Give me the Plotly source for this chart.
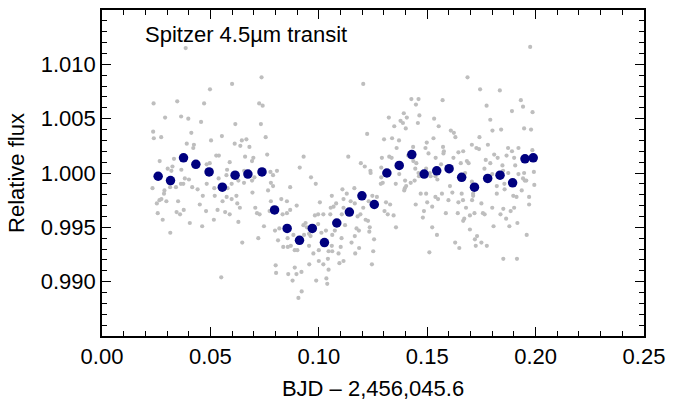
import plotly.graph_objects as go

# ---- raw photometry (grey points), grouped by region ----
time_a = [0.0386,0.0238,0.0291,0.0347,0.0365,0.0398,0.0457,0.0471,0.0498,0.0600,
          0.0736,0.0725,0.0741,0.0615,0.0733,0.0236,0.0239,0.0273,0.0412,0.0391,
          0.0424,0.0421,0.0503,0.0553,0.0612,0.0638,0.0645,0.0666,0.0680,0.0755,
          0.0266,0.0332,0.0527,0.0539,0.0589,0.0660,0.0698,0.0692,0.0762,0.0912,
          0.0930,0.0325,0.0303,0.0320,0.0366,0.0483,0.0497,0.0577,0.0656,0.0703,
          0.0777,0.0807,0.0789,0.0964,0.0986,0.0233,0.0288,0.0314,0.0364,0.0375,
          0.0416,0.0441,0.0483,0.0518,0.0579,0.0629,0.0655,0.0692,0.0779,0.0789,
          0.0868,0.0341,0.0382,0.0401,0.0538,0.0574,0.0598]
flux_a = [1.0115,1.0064,1.0051,1.0066,1.0052,1.0050,1.0047,1.0064,1.0077,1.0082,
          1.0088,1.0064,1.0062,1.0045,1.0045,1.0038,1.0032,1.0033,1.0037,1.0027,
          1.0026,1.0023,1.0030,1.0034,1.0027,1.0025,1.0030,1.0031,1.0024,1.0033,
          1.0011,1.0013,1.0016,1.0016,1.0010,1.0015,1.0014,1.0011,1.0017,1.0005,
          1.0015,1.0006,1.0004,1.0002,1.0003,1.0008,1.0009,1.0003,1.0002,0.9996,
          1.0001,1.0002,0.9998,0.9996,0.9990,0.9986,0.9984,0.9987,0.9990,0.9990,
          0.9987,0.9985,0.9990,0.9986,0.9986,0.9993,0.9991,0.9993,0.9991,0.9988,
          0.9987,0.9987,0.9995,0.9994,0.9995,0.9998,0.9990]

time_b = [0.1975,0.1205,0.1686,0.1744,0.1835,0.1427,0.1460,0.1448,0.1571,0.1932,
          0.1942,0.1774,0.1891,0.1986,0.1323,0.1392,0.1406,0.1464,0.1532,0.1791,
          0.1348,0.1377,0.1388,0.1401,0.1457,0.1553,0.1609,0.1623,0.1630,0.1801,
          0.1841,0.1947,0.1979,0.1223,0.1301,0.1338,0.1370,0.1359,0.1435,0.1498,
          0.1529,0.1492,0.1573,0.1577,0.1706,0.1727,0.1739,0.1741,0.1780,0.1873,
          0.1891,0.1921,0.1985,0.1136,0.1291,0.1325,0.1336,0.1412,0.1436,0.1506,
          0.1539,0.1575,0.1621,0.1644,0.1666,0.1683,0.1691,0.1770,0.1791,0.1809,
          0.1825,0.1866,0.1901,0.1906,0.1847,0.1194,0.1212,0.1238,0.1239,0.1288,
          0.1371,0.1450,0.1445,0.1460,0.1495,0.1512,0.1538,0.1564,0.1606,0.1655,
          0.1675,0.1764,0.1800,0.1850,0.1874,0.1921,0.1942,0.1950,0.1992,0.1947,
          0.1288,0.1295,0.1286,0.1355,0.1398,0.1424,0.1442,0.1397,0.1403,0.1462,
          0.1516,0.1547,0.1605,0.1706,0.1857,0.1957,0.1994,0.1109,0.1164,0.1785,
          0.1821,0.1856]
flux_b = [1.0116,1.0082,1.0088,1.0077,1.0076,1.0068,1.0068,1.0063,1.0067,1.0067,
          1.0061,1.0062,1.0057,1.0056,1.0051,1.0055,1.0051,1.0053,1.0050,1.0049,
          1.0043,1.0048,1.0046,1.0041,1.0046,1.0043,1.0039,1.0037,1.0033,1.0039,
          1.0040,1.0041,1.0040,1.0036,1.0031,1.0032,1.0030,1.0023,1.0024,1.0028,
          1.0032,1.0023,1.0024,1.0020,1.0026,1.0023,1.0022,1.0033,1.0026,1.0023,
          1.0020,1.0023,1.0021,1.0015,1.0014,1.0015,1.0014,1.0016,1.0011,1.0018,
          1.0014,1.0018,1.0014,1.0019,1.0020,1.0011,1.0009,1.0012,1.0009,1.0017,
          1.0014,1.0016,1.0014,1.0007,1.0007,1.0009,1.0006,1.0002,1.0000,1.0005,
          0.9999,1.0009,1.0004,1.0000,1.0004,1.0000,0.9997,1.0008,1.0005,1.0009,
          1.0000,1.0004,0.9999,1.0002,1.0000,0.9999,0.9995,0.9993,1.0001,1.0000,
          0.9996,0.9991,0.9990,0.9990,0.9993,0.9991,0.9993,0.9986,0.9988,0.9997,
          0.9997,0.9994,0.9988,0.9992,0.9985,0.9993,0.9989,0.9985,0.9986,0.9993,
          0.9988,0.9990]

time_c = [0.0286,0.0274,0.0265,0.0253,0.0297,0.0351,0.0465,0.0620,0.0598,0.0575,
          0.0556,0.0520,0.0624,0.0636,0.0257,0.0280,0.0344,0.0360,0.0377,0.0451,
          0.0480,0.0533,0.0568,0.0589,0.0405,0.0462,0.0516,0.0629,0.0315,0.0647,
          0.0550]
flux_c = [0.9981,0.9976,0.9975,0.9972,0.9974,0.9974,0.9979,0.9979,0.9976,0.9978,
          0.9974,0.9979,0.9972,0.9968,0.9963,0.9957,0.9964,0.9962,0.9966,0.9971,
          0.9965,0.9966,0.9964,0.9962,0.9954,0.9951,0.9957,0.9955,0.9945,0.9936,
          0.9904]

time_d = [0.0694,0.0766,0.1005,0.1060,0.1055,0.1080,0.0707,0.0715,0.0727,0.0773,
          0.0779,0.0827,0.0853,0.0898,0.0868,0.0853,0.0833,0.0982,0.0997,0.1021,
          0.1053,0.1068,0.0747,0.0812,0.0798,0.0818,0.0883,0.0929,0.0939,0.0945,
          0.0955,0.0962,0.0997,0.1012,0.1033,0.1062,0.0721,0.0836,0.0857,0.0871,
          0.0889,0.0901,0.0955,0.0975,0.1000,0.1045,0.1062,0.1042,0.1021,0.1045,
          0.1000,0.0956,0.0801,0.0803,0.0859,0.0889,0.0897,0.0920,0.0879,0.0988,
          0.1035,0.1039,0.0921,0.0906,0.0856,0.0932,0.1060,0.1074]
flux_d = [0.9982,0.9984,0.9973,0.9979,0.9968,0.9972,0.9968,0.9963,0.9962,0.9965,
          0.9974,0.9976,0.9974,0.9970,0.9966,0.9963,0.9962,0.9961,0.9962,0.9962,
          0.9962,0.9969,0.9951,0.9938,0.9947,0.9949,0.9943,0.9952,0.9954,0.9950,
          0.9944,0.9942,0.9953,0.9945,0.9947,0.9943,0.9940,0.9932,0.9932,0.9933,
          0.9929,0.9929,0.9933,0.9926,0.9929,0.9928,0.9928,0.9921,0.9916,0.9911,
          0.9919,0.9916,0.9915,0.9908,0.9907,0.9913,0.9907,0.9909,0.9901,0.9901,
          0.9903,0.9898,0.9891,0.9885,0.9940,0.9943,0.9933,0.9947]

time_e = [0.1394,0.1129,0.1114,0.1147,0.1166,0.1230,0.1247,0.1268,0.1310,0.1329,
          0.1447,0.1470,0.1495,0.1500,0.1205,0.1192,0.1179,0.1114,0.1106,0.1303,
          0.1318,0.1345,0.1485,0.1480,0.1216,0.1227,0.1121,0.1174,0.1185,0.1235,
          0.1233,0.1356,0.1105,0.1151,0.1166,0.1255,0.1186,0.1101,0.1091,0.1168,
          0.1251,0.1114,0.1095,0.1245,0.1510]
flux_e = [0.9984,0.9981,0.9976,0.9974,0.9972,0.9974,0.9979,0.9978,0.9973,0.9971,
          0.9971,0.9981,0.9981,0.9973,0.9968,0.9962,0.9960,0.9968,0.9962,0.9965,
          0.9962,0.9961,0.9965,0.9959,0.9957,0.9956,0.9952,0.9949,0.9947,0.9950,
          0.9946,0.9950,0.9940,0.9936,0.9942,0.9939,0.9931,0.9932,0.9926,0.9926,
          0.9928,0.9919,0.9917,0.9916,0.9927]

time_f = [0.1616,0.1659,0.1712,0.1707,0.1665,0.1644,0.1598,0.1568,0.1538,0.1550,
          0.1523,0.1586,0.1641,0.1679,0.1718,0.1697,0.1671,0.1666,0.1750,0.1757,
          0.1765,0.1800,0.1821,0.1838,0.1851,0.1864,0.1879,0.1885,0.1901,0.1916,
          0.1897,0.1912,0.1936,0.1970,0.1970,0.1712,0.1523,0.1545,0.1697,0.1730,
          0.1720,0.1724,0.1750,0.1775,0.1629,0.1648,0.1806,0.1959,0.1851,0.1914]
flux_f = [0.9982,0.9981,0.9981,0.9975,0.9975,0.9973,0.9975,0.9981,0.9978,0.9976,
          0.9969,0.9963,0.9963,0.9968,0.9963,0.9961,0.9958,0.9956,0.9972,0.9963,
          0.9962,0.9968,0.9981,0.9962,0.9967,0.9958,0.9951,0.9965,0.9968,0.9954,
          0.9979,0.9978,0.9984,0.9978,0.9971,0.9979,0.9950,0.9943,0.9948,0.9942,
          0.9939,0.9933,0.9936,0.9933,0.9936,0.9931,0.9951,0.9943,0.9921,0.9921]

# ---- binned light curve (navy points) ----
time_bin = [0.0259,0.0316,0.0376,0.0433,0.0494,0.0555,0.0614,0.0673,0.0738,0.0796,
            0.0854,0.0911,0.0970,0.1026,0.1083,0.1141,0.1199,0.1256,0.1314,0.1371,
            0.1429,0.1486,0.1544,0.1601,0.1659,0.1718,0.1779,0.1836,0.1894,0.1951,
            0.1989]
flux_bin = [0.9997,0.9993,1.0014,1.0008,1.0001,0.9987,0.9998,0.9999,1.0001,0.9966,
            0.9949,0.9938,0.9949,0.9936,0.9954,0.9964,0.9979,0.9971,1.0000,1.0007,
            1.0017,0.9999,1.0002,1.0004,0.9996,0.9987,0.9995,0.9998,0.9991,1.0013,
            1.0014]

x_ticks = [0.00, 0.05, 0.10, 0.15, 0.20, 0.25]
y_ticks = [0.990, 0.995, 1.000, 1.005, 1.010]

raw_time = time_a + time_b + time_c + time_d + time_e + time_f
raw_flux = flux_a + flux_b + flux_c + flux_d + flux_e + flux_f

FONT = "Liberation Sans, Arial, Helvetica, sans-serif"
FS = 22

fig = go.Figure()
fig.add_trace(go.Scatter(x=raw_time, y=raw_flux, mode="markers",
                         marker=dict(color="#bebebe", size=4.2, line=dict(width=0)),
                         hoverinfo="skip", showlegend=False))
fig.add_trace(go.Scatter(x=time_bin, y=flux_bin, mode="markers",
                         marker=dict(color="#00007f", size=9.5, line=dict(width=0)),
                         showlegend=False))

axis_common = dict(
    showline=True, linecolor="black", linewidth=1.6, mirror="ticks",
    ticks="inside", ticklen=9, tickwidth=1.3, tickcolor="black",
    showgrid=False, zeroline=False, ticklabeloverflow="allow",
    tickfont=dict(family=FONT, size=FS, color="black"),
)

fig.update_xaxes(
    range=[0, 0.25], tickvals=x_ticks, tickformat=".2f",
    minor=dict(dtick=0.01, tick0=0, ticks="inside", ticklen=5, tickwidth=1.3, tickcolor="black", showgrid=False),
    title=dict(text="BJD \u2013 2,456,045.6", font=dict(family=FONT, size=FS, color="black"), standoff=12),
    **axis_common,
)
fig.update_yaxes(
    range=[0.985, 1.015], tickvals=y_ticks, tickformat=".3f",
    minor=dict(dtick=0.001, tick0=0.985, ticks="inside", ticklen=5, tickwidth=1.3, tickcolor="black", showgrid=False),
    title=dict(text="Relative flux", font=dict(family=FONT, size=FS, color="black"), standoff=10),
    **axis_common,
)

fig.add_annotation(x=0.0189, y=1.0127, xref="x", yref="y", xanchor="left", yanchor="middle",
                   text="Spitzer 4.5\u00b5m transit", showarrow=False,
                   font=dict(family=FONT, size=FS, color="black"))

fig.update_layout(
    width=673, height=407,
    margin=dict(l=102, r=21, t=8, b=71),
    paper_bgcolor="white", plot_bgcolor="white",
    font=dict(family=FONT, color="black"),
)

fig.write_html("out.html")
